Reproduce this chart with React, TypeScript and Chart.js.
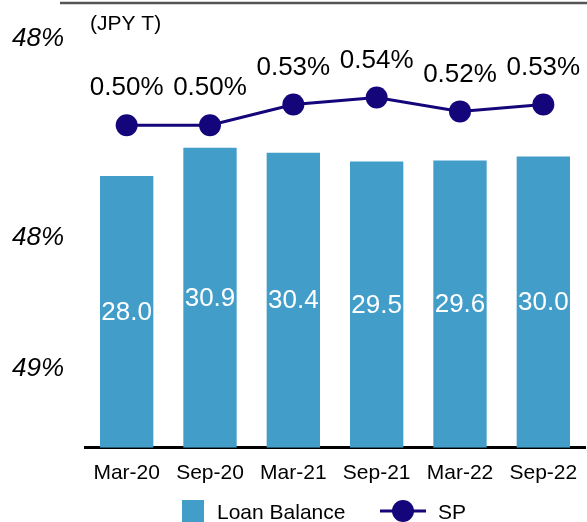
import React, { useEffect, useRef } from "react";
import { Chart, registerables } from "chart.js";

Chart.register(...registerables);

const categories = ["Mar-20", "Sep-20", "Mar-21", "Sep-21", "Mar-22", "Sep-22"];
const loanBalance = [28.0, 30.9, 30.4, 29.5, 29.6, 30.0];
const spValues = [0.5, 0.5, 0.53, 0.54, 0.52, 0.53];
const sideLabels = ["48%", "48%", "49%"];
const unitLabel = "(JPY T)";
const legendLabels = ["Loan Balance", "SP"];

const BAR_COLOR = "#429dc9";
const LINE_COLOR = "#14067a";
const FONT = "'Liberation Sans', Arial, sans-serif";

const overlayPlugin = {
  id: "overlay",
  afterDraw(chart: any) {
    const ctx = chart.ctx;
    ctx.save();
    // top rule
    ctx.strokeStyle = "#555555";
    ctx.lineWidth = 2.5;
    ctx.beginPath();
    ctx.moveTo(60, 3);
    ctx.lineTo(587, 3);
    ctx.stroke();

    // unit label
    ctx.fillStyle = "#000";
    ctx.font = `21px ${FONT}`;
    ctx.textAlign = "left";
    ctx.textBaseline = "middle";
    ctx.fillText(unitLabel, 90, 24);

    // side labels
    ctx.font = `italic 26px ${FONT}`;
    const sideY = [39, 238, 369];
    sideLabels.forEach((t, i) => ctx.fillText(t, 12, sideY[i]));

    // bar value labels
    const barMeta = chart.getDatasetMeta(0);
    ctx.fillStyle = "#ffffff";
    ctx.font = `26px ${FONT}`;
    ctx.textAlign = "center";
    barMeta.data.forEach((el: any, i: number) => {
      const mid = (el.y + el.base) / 2;
      ctx.fillText(loanBalance[i].toFixed(1), el.x, mid + 1);
    });

    // line value labels
    const lineMeta = chart.getDatasetMeta(1);
    ctx.fillStyle = "#000000";
    lineMeta.data.forEach((el: any, i: number) => {
      ctx.fillText(spValues[i].toFixed(2) + "%", el.x, el.y - 37);
    });

    // legend
    ctx.fillStyle = BAR_COLOR;
    ctx.fillRect(182, 500, 22, 22);
    ctx.fillStyle = "#000";
    ctx.font = `21px ${FONT}`;
    ctx.textAlign = "left";
    ctx.fillText(legendLabels[0], 217, 513);
    ctx.strokeStyle = LINE_COLOR;
    ctx.lineWidth = 3;
    ctx.beginPath();
    ctx.moveTo(380, 511);
    ctx.lineTo(426, 511);
    ctx.stroke();
    ctx.fillStyle = LINE_COLOR;
    ctx.beginPath();
    ctx.arc(403, 511, 11, 0, Math.PI * 2);
    ctx.fill();
    ctx.fillStyle = "#000";
    ctx.fillText(legendLabels[1], 438, 513);
    ctx.restore();
  },
};

export default function App() {
  const ref = useRef<HTMLCanvasElement | null>(null);
  useEffect(() => {
    if (!ref.current) return;
    const chart = new Chart(ref.current, {
      type: "bar",
      data: {
        labels: categories,
        datasets: [
          {
            type: "bar",
            label: legendLabels[0],
            data: loanBalance,
            backgroundColor: BAR_COLOR,
            barPercentage: 0.64,
            categoryPercentage: 1,
            yAxisID: "y",
            order: 1,
          },
          {
            type: "line",
            label: legendLabels[1],
            data: spValues,
            borderColor: LINE_COLOR,
            backgroundColor: LINE_COLOR,
            borderWidth: 3,
            pointRadius: 11,
            pointBackgroundColor: LINE_COLOR,
            pointBorderColor: LINE_COLOR,
            pointBorderWidth: 0,
            yAxisID: "y2",
            order: 0,
          } as any,
        ],
      },
      options: {
        animation: false,
        responsive: false,
        maintainAspectRatio: false,
        layout: { autoPadding: false, padding: { left: 85, right: 2, top: 10, bottom: 23 } },
        plugins: { legend: { display: false }, tooltip: { enabled: false } },
        scales: {
          x: {
            grid: { display: false, drawTicks: false },
            border: { display: true, color: "#000", width: 3 },
            ticks: { color: "#000", padding: 13, font: { size: 21, family: FONT } },
            afterFit: (scale: any) => {
              scale.paddingLeft = 0;
              scale.paddingRight = 0;
            },
          },
          y: { display: false, min: 0, max: 45.1 },
          y2: { display: false, min: 0.0333, max: 0.6667, position: "right" },
        },
      },
      plugins: [overlayPlugin],
    });
    return () => chart.destroy();
  }, []);
  return (
    <div style={{ position: "absolute", left: 0, top: 0, width: 587, height: 522, background: "#fff" }}>
      <canvas ref={ref} width={587} height={522} style={{ width: 587, height: 522 }} />
    </div>
  );
}
